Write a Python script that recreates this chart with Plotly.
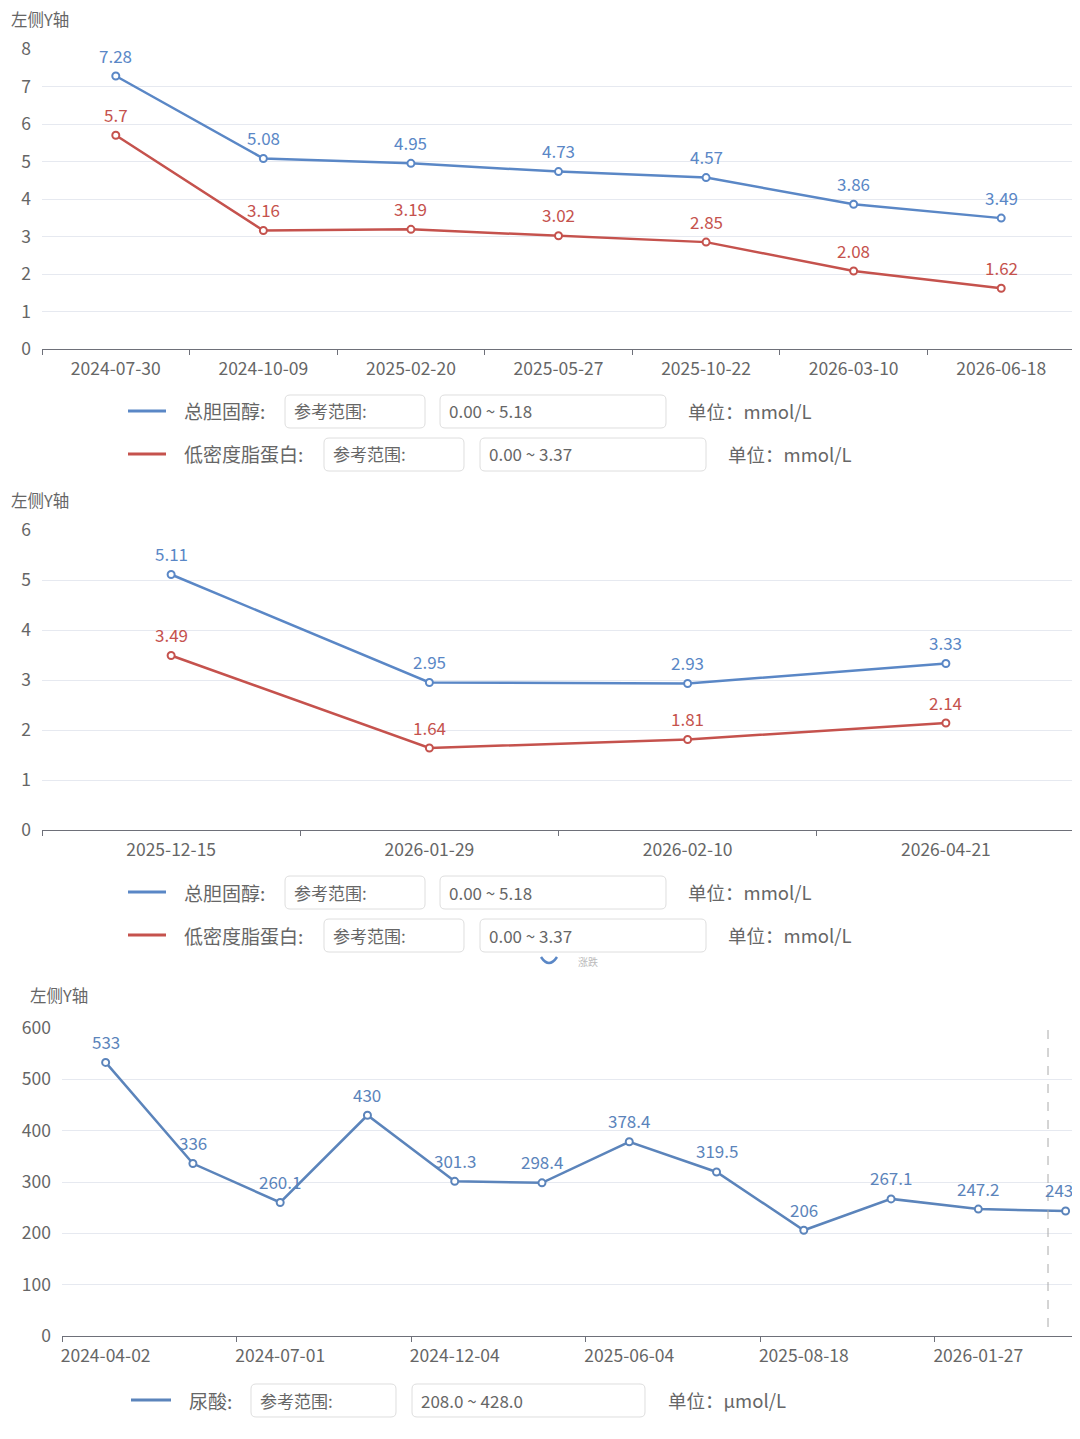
import plotly.graph_objects as go

PAGE_OFFSET = 8  # the page body margin shifts the figure by this much
W, H = 1080 - 2 * PAGE_OFFSET, 1439 - 2 * PAGE_OFFSET  # fits the window without scrollbars

# chart 1 - lipids over time
LIPID_DATES_1 = ["2024-07-30", "2024-10-09", "2025-02-20", "2025-05-27",
                 "2025-10-22", "2026-03-10", "2026-06-18"]
TC_1 = [7.28, 5.08, 4.95, 4.73, 4.57, 3.86, 3.49]
LDL_1 = [5.7, 3.16, 3.19, 3.02, 2.85, 2.08, 1.62]

# chart 2 - lipids, recent
LIPID_DATES_2 = ["2025-12-15", "2026-01-29", "2026-02-10", "2026-04-21"]
TC_2 = [5.11, 2.95, 2.93, 3.33]
LDL_2 = [3.49, 1.64, 1.81, 2.14]

# chart 3 - uric acid (only every other date is labelled)
UA_TICK_LABELS = ["2024-04-02", "2024-07-01", "2024-12-04",
                  "2025-06-04", "2025-08-18", "2026-01-27"]
UA = [533, 336, 260.1, 430, 301.3, 298.4, 378.4, 319.5, 206, 267.1, 247.2, 243.6]

BLUE = "#5a87c6"
RED = "#c5524d"
UA_BLUE = "#5b84bb"
GRAY = "#666666"
FONT = "Noto Sans CJK SC"


def px(x):
    return (x - PAGE_OFFSET) / W


def py(y):
    return 1 - (y - PAGE_OFFSET) / H


def rounded_box(x0, y0, x1, y1, r=5):
    """rounded rect path, pixel coords -> paper coords"""
    X = lambda v: f"{px(v):.5f}"
    Y = lambda v: f"{py(v):.5f}"
    return dict(
        type="path", xref="paper", yref="paper",
        path=(f"M {X(x0 + r)} {Y(y0)} L {X(x1 - r)} {Y(y0)} "
              f"Q {X(x1)} {Y(y0)} {X(x1)} {Y(y0 + r)} L {X(x1)} {Y(y1 - r)} "
              f"Q {X(x1)} {Y(y1)} {X(x1 - r)} {Y(y1)} L {X(x0 + r)} {Y(y1)} "
              f"Q {X(x0)} {Y(y1)} {X(x0)} {Y(y1 - r)} L {X(x0)} {Y(y0 + r)} "
              f"Q {X(x0)} {Y(y0)} {X(x0 + r)} {Y(y0)} Z"),
        line=dict(color="#dedede", width=1), fillcolor="white", layer="above")


def legend_row(shapes, annots, y, color, name, box1, box2, rng, unit_x, unit, x_line=(128, 166), name_x=182):
    shapes.append(dict(type="line", xref="paper", yref="paper",
                       x0=px(x_line[0]), x1=px(x_line[1]), y0=py(y), y1=py(y),
                       line=dict(color=color, width=3)))
    annots.append(dict(text=name, x=px(name_x), y=py(y), xref="paper", yref="paper",
                       xanchor="left", yanchor="middle", showarrow=False,
                       font=dict(size=19, color=GRAY)))
    shapes.append(rounded_box(box1[0], y - 16, box1[1], y + 17))
    annots.append(dict(text="参考范围:", x=px(box1[0] + 7), y=py(y), xref="paper", yref="paper",
                       xanchor="left", yanchor="middle", showarrow=False,
                       font=dict(size=17, color=GRAY)))
    shapes.append(rounded_box(box2[0], y - 16, box2[1], y + 17))
    annots.append(dict(text=rng, x=px(box2[0] + 7), y=py(y), xref="paper", yref="paper",
                       xanchor="left", yanchor="middle", showarrow=False,
                       font=dict(size=17, color=GRAY)))
    annots.append(dict(text=unit, x=px(unit_x - 2), y=py(y), xref="paper", yref="paper",
                       xanchor="left", yanchor="middle", showarrow=False,
                       font=dict(size=18.5, color=GRAY)))


def point_labels(annots, values, color, xref, yref, shift=21):
    for i, v in enumerate(values):
        annots.append(dict(text=f"{v:g}", x=i, y=v, xref=xref, yref=yref,
                           yshift=shift, showarrow=False,
                           font=dict(size=17, color=color)))


def line_trace(values, color, xa, ya):
    return go.Scatter(
        x=list(range(len(values))), y=values, xaxis=xa, yaxis=ya,
        mode="lines+markers", cliponaxis=False, showlegend=False,
        line=dict(color=color, width=2.5),
        marker=dict(size=7, color="white", line=dict(color=color, width=2)))


fig = go.Figure()
fig.add_trace(line_trace(TC_1, BLUE, "x", "y"))
fig.add_trace(line_trace(LDL_1, RED, "x", "y"))
fig.add_trace(line_trace(TC_2, BLUE, "x2", "y2"))
fig.add_trace(line_trace(LDL_2, RED, "x2", "y2"))
fig.add_trace(line_trace(UA, UA_BLUE, "x3", "y3"))

annots = []
shapes = []
point_labels(annots, TC_1, BLUE, "x", "y")
point_labels(annots, LDL_1, RED, "x", "y")
point_labels(annots, TC_2, BLUE, "x2", "y2")
point_labels(annots, LDL_2, RED, "x2", "y2")
point_labels(annots, UA, UA_BLUE, "x3", "y3")

# axis names
for x, y in [(9, 19), (9, 500), (28, 995)]:
    annots.append(dict(text="左侧Y轴", x=px(x), y=py(y), xref="paper", yref="paper",
                       xanchor="left", yanchor="middle", showarrow=False,
                       font=dict(size=16.5, color=GRAY)))

# legends
for y0 in (411, 892):
    legend_row(shapes, annots, y0, BLUE, "总胆固醇:", (285, 425), (440, 666),
               "0.00 ~ 5.18", 688, "单位：mmol/L")
    legend_row(shapes, annots, y0 + 43, RED, "低密度脂蛋白:", (324, 464), (480, 706),
               "0.00 ~ 3.37", 728, "单位：mmol/L")
legend_row(shapes, annots, 1400, UA_BLUE, "尿酸:", (251, 396), (412, 645),
           "208.0 ~ 428.0", 668, "单位：μmol/L", x_line=(131, 171), name_x=187)

# half hidden toggle under the second legend
shapes.append(dict(type="path", xref="paper", yref="paper",
                   path=f"M {px(541):.5f} {py(957):.5f} Q {px(549):.5f} {py(969):.5f} {px(557):.5f} {py(957):.5f}",
                   line=dict(color=BLUE, width=2.5)))
annots.append(dict(text="涨跌", x=px(576), y=py(961), xref="paper", yref="paper",
                   xanchor="left", yanchor="middle", showarrow=False,
                   font=dict(size=10, color="#bbbbbb")))

# tooltip cursor line in chart 3
shapes.append(dict(type="line", xref="paper", yref="paper",
                   x0=px(1048), x1=px(1048), y0=py(1030), y1=py(1336),
                   line=dict(color="#aaaaaa", width=1, dash="dash")))


def xaxis(n, labels, left, right, every=1):
    """category axis from pixel `left` to `right`; clipped at the page edge"""
    step = (right - left) / n
    edge = W + PAGE_OFFSET
    rng = [-0.5, -0.5 + (min(right, edge) - left) / step]
    return dict(
        domain=[px(left), min(px(right), 1)], range=rng, tickmode="array", automargin=False,
        tickvals=list(range(0, n, every)), ticktext=labels, ticks="",
        ticklabelstandoff=4,
        showgrid=False, zeroline=False, showline=True, linecolor="#6e7079", linewidth=1,
        tickfont=dict(size=17.5, color=GRAY),
        minor=dict(tickmode="array", tickvals=[i - 0.5 for i in range(0, n + 1, every)],
                   ticks="outside", ticklen=5, tickcolor="#6e7079", showgrid=False),
        fixedrange=True)


def yaxis(anchor, domain, rng, dtick):
    return dict(
        anchor=anchor, domain=domain, range=rng, dtick=dtick, automargin=False,
        showgrid=True, gridcolor="#e6e9f0", zeroline=False, showline=False,
        ticks="", ticklabelstandoff=10, tickfont=dict(size=17.5, color=GRAY),
        fixedrange=True)


fig.update_layout(
    width=W, height=H,
    margin=dict(l=0, r=0, t=0, b=0, pad=0),
    paper_bgcolor="white", plot_bgcolor="white",
    font=dict(family=FONT, color=GRAY),
    xaxis=dict(xaxis(7, LIPID_DATES_1, 42, 1075), anchor="y"),
    yaxis=yaxis("x", [py(349), py(49)], [0, 8], 1),
    xaxis2=dict(xaxis(4, LIPID_DATES_2, 42, 1075), anchor="y2"),
    yaxis2=yaxis("x2", [py(830), py(530)], [0, 6], 1),
    # uric acid axis runs past the right edge of the page (the reference is cropped there)
    xaxis3=dict(xaxis(12, UA_TICK_LABELS, 62, 62 + 12 * 87.27, every=2), anchor="y3"),
    yaxis3=yaxis("x3", [py(1336), py(1028)], [0, 600], 100),
    annotations=annots,
    shapes=shapes,
)

fig.write_html("out.html")
